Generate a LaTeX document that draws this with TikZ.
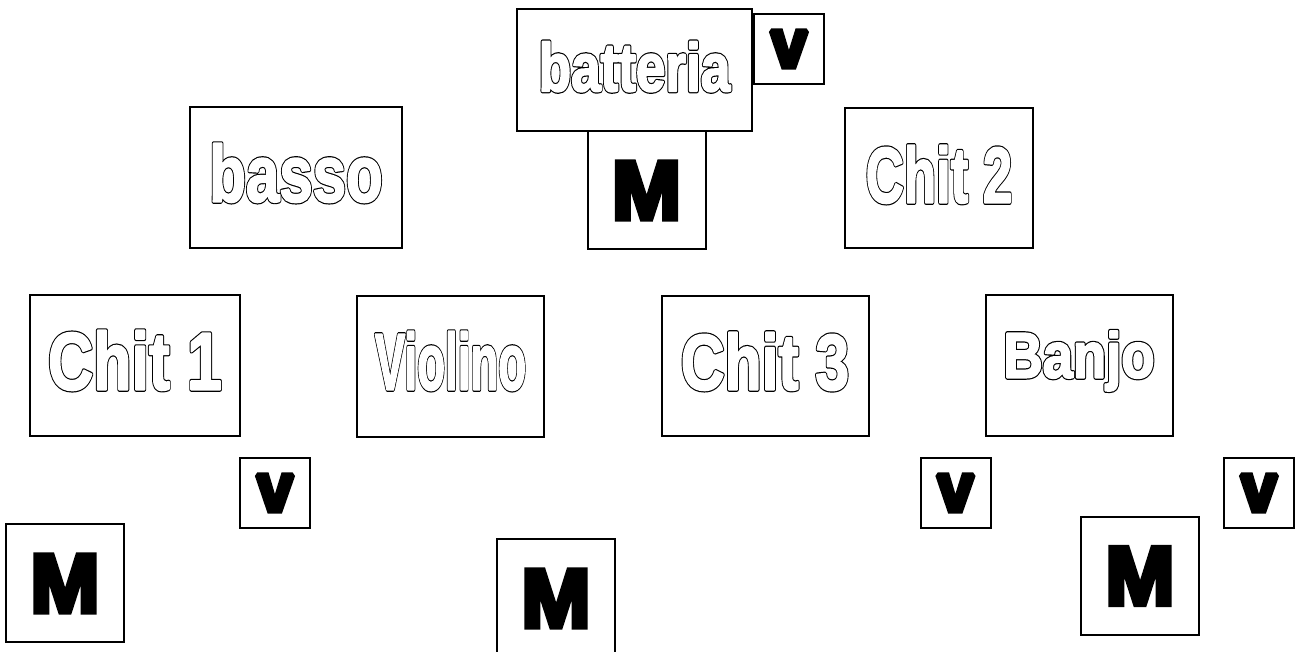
\documentclass[tikz,border=0pt]{standalone}
\usepackage{fontspec}
\setmainfont{Liberation Sans}
\usepackage{graphicx}
% hollow (outlined, fattened) and heavy (filled + stroked) letters
\newcommand{\hollow}[1]{\rlap{\special{pdf:literal direct 1 j 2 Tr 3.4 w}#1}%
  \special{pdf:literal direct 1 g 1 G 2 Tr 1.6 w}#1\special{pdf:literal direct 0 g 0 G 0 Tr 0 j}}
\newcommand{\heavy}[1]{\special{pdf:literal direct 0 j 1.5 M 2 Tr 4 w}#1\special{pdf:literal direct 0 Tr 10 M}}
\newcommand{\tone}[3]{\scalebox{#2}[1]{\fontsize{#1}{#1}\selectfont\bfseries\hollow{#3}}}
\newcommand{\sign}[3]{\scalebox{#2}[1]{\fontsize{#1}{#1}\selectfont\bfseries\heavy{#3}}}
\tikzset{every picture/.style={line width=1.5pt}}
\tikzset{
  boxsize/.style 2 args={minimum width=#1*0.75pt, minimum height=#2*0.75pt},
  tone box/.style={draw, inner sep=0pt, text height=#1, text depth=0pt},
  mbox/.style={draw, inner sep=0pt, text height=43.5pt, text depth=0pt, boxsize={118}{118}},
  vbox/.style={draw, inner sep=0pt, text height=27pt, text depth=0pt, boxsize={70}{70}}
}

\begin{document}
\begin{tikzpicture}[x=0.75pt,y=0.75pt,yscale=-1,xscale=1]
\useasboundingbox (0,0) rectangle (1297,652);

% top group
\node [tone box=31.5pt, boxsize={235}{122}] (batteria) at (634.5,70) {\tone{51}{0.78}{batteria}};
\node [vbox] (vtop) at (789,49) {\sign{51}{0.95}{v}};
\node [mbox] (mtop) at (646.5,190) {\sign{62}{1.0}{M}};

% second row
\node [tone box=36pt, boxsize={212}{141}] (basso) at (296,177.5) {\tone{60}{0.75}{basso}};
\node [tone box=36.75pt, boxsize={188}{140}] (chit2) at (939,178) {\tone{59}{0.67}{Chit 2}};

% third row
\node [tone box=36pt, boxsize={210}{141}] (chit1) at (135,365.5) {\tone{61}{0.77}{Chit 1}};
\node [tone box=34.5pt, boxsize={187}{141}] (violino) at (450.5,366.5) {\tone{60}{0.57}{Violino}};
\node [tone box=35.25pt, boxsize={207}{140}] (chit3) at (765,366) {\tone{59}{0.77}{Chit 3}};
\node [tone box=18pt, boxsize={187}{141}] (banjo) at (1079,365.5) {\tone{48}{0.85}{Banjo}};

% bottom marks
\node [vbox] (vone) at (275,493) {\sign{51}{0.95}{v}};
\node [mbox] (mone) at (65,583) {\sign{62}{1.0}{M}};
\node [mbox] (mtwo) at (556,598) {\sign{62}{1.0}{M}};
\node [vbox] (vtwo) at (955.5,493) {\sign{51}{0.95}{v}};
\node [mbox] (mthree) at (1140,575.5) {\sign{62}{1.0}{M}};
\node [vbox] (vthree) at (1259,493) {\sign{51}{0.95}{v}};

\end{tikzpicture}
\end{document}
